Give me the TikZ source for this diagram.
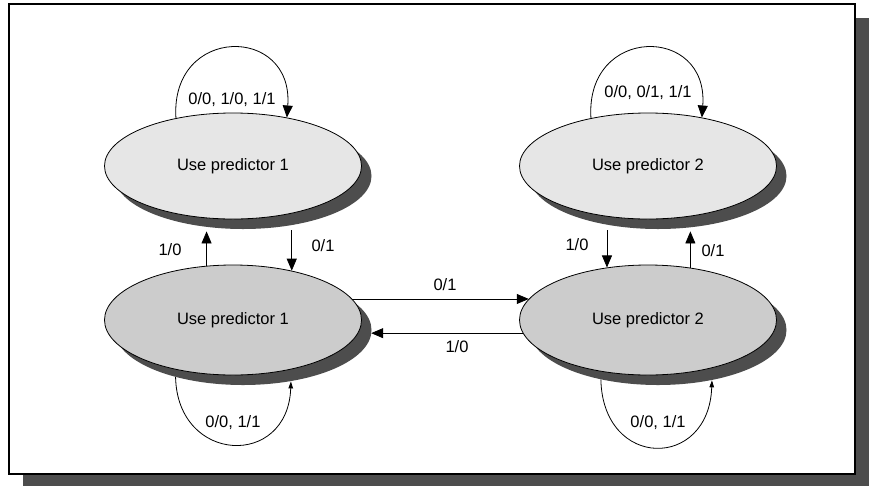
\documentclass[tikz,border=0pt]{standalone}
\usepackage{fontspec}
\setmainfont{Liberation Sans}
\usetikzlibrary{arrows.meta,shapes.geometric,shadows,calc}
\definecolor{lightstate}{HTML}{E6E6E6}
\definecolor{darkstate}{HTML}{CCCCCC}
\definecolor{shadowgray}{HTML}{4D4D4D}
\tikzset{
  state/.style={ellipse, draw=black, line width=0.8pt, minimum width=257pt, inner sep=0pt,
    drop shadow={shadow xshift=10pt, shadow yshift=-10pt, fill=shadowgray, opacity=1},
    font=\fontsize{16.5}{20}\selectfont},
  weak/.style={state, fill=lightstate, minimum height=106pt},
  strong/.style={state, fill=darkstate, minimum height=110pt},
  trans/.style={line width=0.8pt, -{Triangle[length=12pt,width=10pt]}},
  selfloop/.style={line width=0.8pt, -{Triangle[length=7pt,width=4.5pt]}},
  lbl/.style={font=\fontsize{16.5}{20}\selectfont, inner sep=0pt}
}

\begin{document}
\begin{tikzpicture}[x=1pt,y=-1pt]
  \useasboundingbox (0,0) rectangle (869,485);
  % page frame
  \fill[shadowgray] (23,18) rectangle (869,490);
  \draw[line width=1.3pt, fill=white] (9,4) rectangle (855,474);

  \node[weak]   (T1) at (233,166) {Use predictor 1};
  \node[weak]   (T2) at (648,166) {Use predictor 2};
  \node[strong] (B1) at (233,320) {Use predictor 1};
  \node[strong] (B2) at (648,320) {Use predictor 2};

  % loops
  \draw[trans] (T1.140) .. controls +(-6,-93) and +(7,-93) .. (T1.42);
  \node[lbl] (L1) at (232,100) {0/0, 1/0, 1/1};
  \draw[trans] (T2.140) .. controls +(-6,-93) and +(7,-93) .. (T2.42);
  \node[lbl] (L2) at (648,93) {0/0, 0/1, 1/1};
  \draw[selfloop] ([xshift=10pt,yshift=-10pt]B1.215.5) .. controls +(2,87) and +(-3,87) .. ([xshift=10pt,yshift=-10pt]B1.-47.3);
  \node[lbl] (L3) at (233,423) {0/0, 1/1};
  \draw[selfloop] ([xshift=10pt,yshift=-10pt]B2.221.8) .. controls +(2,90) and +(-3,90) .. ([xshift=10pt,yshift=-10pt]B2.-43.4);
  \node[lbl] (L4) at (658,423) {0/0, 1/1};

  % between the levels
  \draw[trans] (B1.116.6) -- ($(B1.116.6 |- T1.south)+(0,12)$);
  \node[lbl] (L5) at (170,250) {1/0};
  \draw[trans] ($(B1.40.8 |- T1.south)+(0,11)$) -- (B1.40.8);
  \node[lbl] (L6) at (323,246) {0/1};
  \draw[trans] ($(B2.128.2 |- T2.south)+(0,11)$) -- (B2.128.2);
  \node[lbl] (L7) at (577,245) {1/0};
  \draw[trans] (B2.51.8) -- ($(B2.51.8 |- T2.south)+(0,12)$);
  \node[lbl] (L8) at (713,251) {0/1};

  % between the predictors
  \draw[trans] (B1.10) -- (B2.170);
  \node[lbl] (L9) at (445,285) {0/1};
  \draw[trans] (B2.186) -- ([xshift=13pt]B1.-6);
  \node[lbl] (L10) at (457,347) {1/0};
\end{tikzpicture}
\end{document}
